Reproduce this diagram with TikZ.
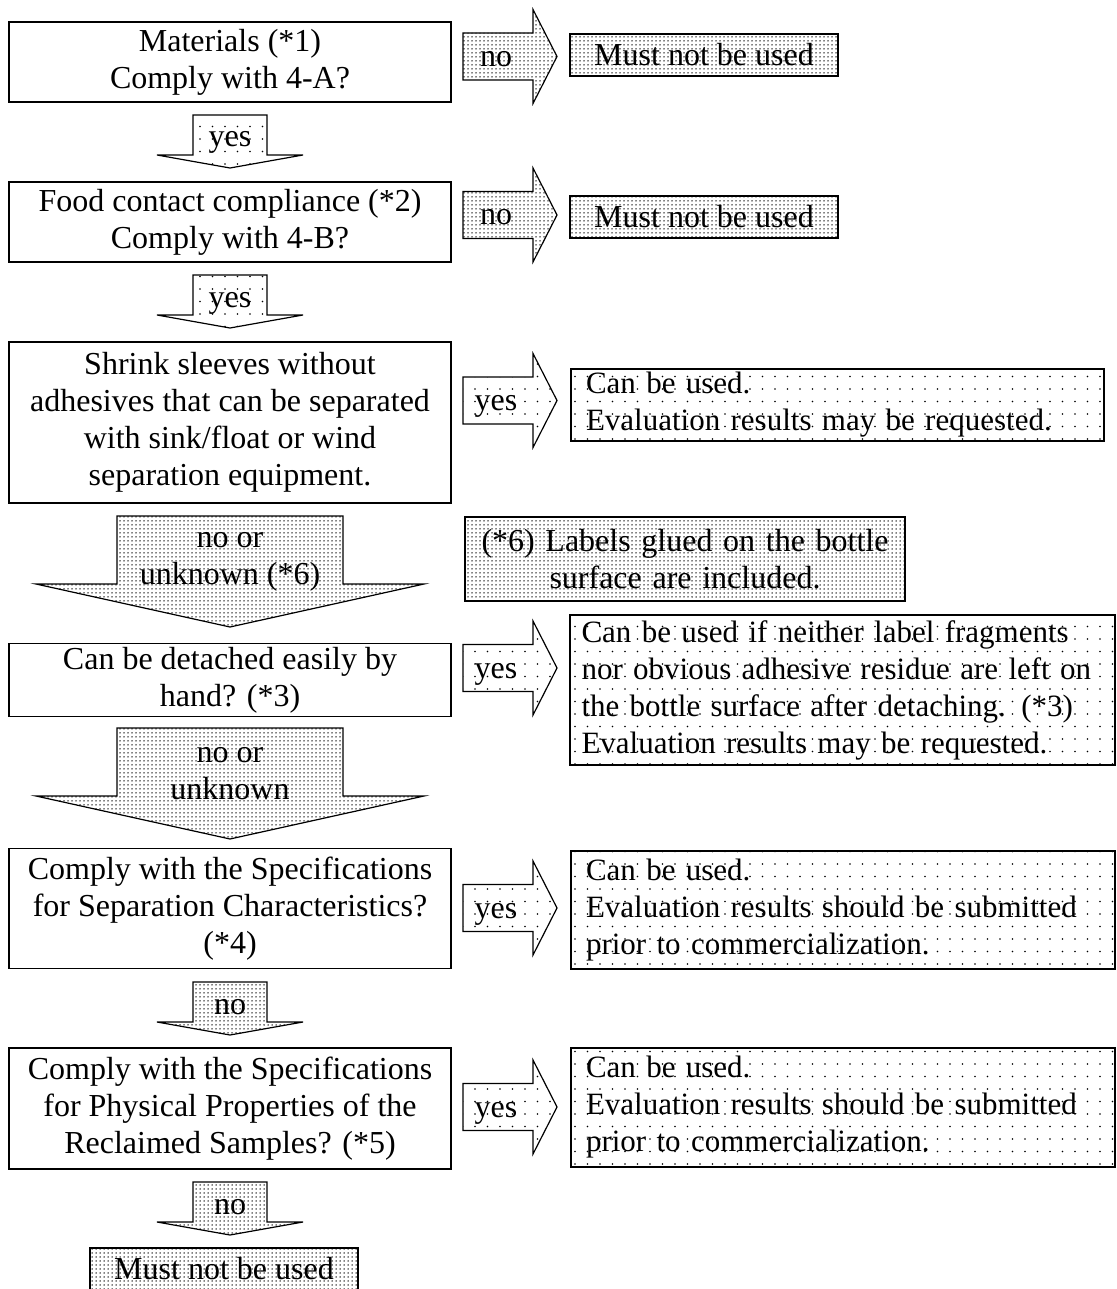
\documentclass[tikz,border=0pt]{standalone}
\usepackage{fontspec}
\setmainfont{Liberation Serif}
\usetikzlibrary{positioning, patterns.meta}

\tikzdeclarepattern{
  name=finedots,
  bounding box={(-1pt,-1pt) and (1pt,1pt)},
  tile size={(4pt,4pt)},
  code={\fill (0pt,0pt) circle (0.75pt);}
}
\tikzdeclarepattern{
  name=sparsedots,
  bounding box={(-1pt,-1pt) and (1pt,1pt)},
  tile size={(12.5pt,12.5pt)},
  code={\fill (0pt,0pt) circle (0.9pt);}
}

\tikzset{
  question/.style={draw, line width=1.6pt, minimum width=442pt, align=center},
  nogo/.style={draw, line width=2pt, pattern=finedots, minimum width=268pt, minimum height=42pt, anchor=north west},
  okbox/.style={draw, line width=2pt, pattern=sparsedots, align=left, anchor=north west, inner xsep=15pt, font=\fontsize{31}{37}\selectfont},
  blk/.style={draw, line width=1.2pt},
  lbl/.style={anchor=base}
}

\begin{document}
\begin{tikzpicture}[x=1pt, y=-1pt, font=\fontsize{32}{37}\selectfont]
\useasboundingbox (0,0) rectangle (1116,1289);

% questions
\node[question, minimum height=80pt] (materials) at (230,62) {Materials (*1)\\Comply with 4-A?};
\node[question, minimum height=80pt] (food) at (230,222) {Food contact compliance (*2)\\Comply with 4-B?};
\node[question, minimum height=161pt] (shrink) at (230,422.5) {Shrink sleeves without\\adhesives that can be separated\\with sink/float or wind\\separation equipment.};
\node[question, minimum height=70pt] (detach) at (230,680) {Can be detached easily by\\hand? (*3)};
\node[question, minimum height=120pt] (separation) at (230,908.5) {Comply with the Specifications\\for Separation Characteristics?\\(*4)};
\node[question, minimum height=121pt] (physical) at (230,1108.5) {Comply with the Specifications\\for Physical Properties of the\\Reclaimed Samples? (*5)};

% answers
\node[nogo] (nogo1) at (569,33) {Must not be used};
\node[nogo] (nogo2) at (569,195) {Must not be used};
\node[okbox, text width=503pt, minimum height=70pt] (ok3) at (570,368) {Can be used.\\Evaluation results may be requested.};
\node[draw, line width=2pt, pattern=finedots, align=center, anchor=north west, text width=428pt, minimum height=84pt, inner xsep=6pt] (note) at (464,516) {(*6) Labels glued on the bottle\\surface are included.};
\node[okbox, text width=522pt, inner xsep=11.5pt, minimum height=150pt] (ok4) at (569,614) {Can be used if neither label fragments\\nor obvious adhesive residue are left on\\the bottle surface after detaching. (*3)\\Evaluation results may be requested.};
\node[okbox, text width=514pt, minimum height=118pt] (ok5) at (570,850) {Can be used.\\Evaluation results should be submitted\\prior to commercialization.};
\node[okbox, text width=514pt, minimum height=119pt] (ok6) at (570,1047) {Can be used.\\Evaluation results should be submitted\\prior to commercialization.};
\node[nogo] (nogo3) at (89,1247) {Must not be used};

% right arrows
\draw[blk, pattern=finedots] (463,33) -- ++(70,0) -- ++(0,-23.5) -- ++(24,47) -- ++(-24,47) -- ++(0,-23.5) -- ++(-70,0) -- cycle;
\draw[blk, pattern=finedots] (463,191.5) -- ++(70,0) -- ++(0,-23.5) -- ++(24,47) -- ++(-24,47) -- ++(0,-23.5) -- ++(-70,0) -- cycle;
\draw[blk, pattern=sparsedots] (463,377) -- ++(70,0) -- ++(0,-23.5) -- ++(24,47) -- ++(-24,47) -- ++(0,-23.5) -- ++(-70,0) -- cycle;
\draw[blk, pattern=sparsedots] (463,644.5) -- ++(70,0) -- ++(0,-23.5) -- ++(24,47) -- ++(-24,47) -- ++(0,-23.5) -- ++(-70,0) -- cycle;
\draw[blk, pattern=sparsedots] (463,884.5) -- ++(70,0) -- ++(0,-23.5) -- ++(24,47) -- ++(-24,47) -- ++(0,-23.5) -- ++(-70,0) -- cycle;
\draw[blk, pattern=sparsedots] (463,1083.5) -- ++(70,0) -- ++(0,-23.5) -- ++(24,47) -- ++(-24,47) -- ++(0,-23.5) -- ++(-70,0) -- cycle;
\node[lbl] (no1) at (496,66.5) {no};
\node[lbl] (no2) at (496,225) {no};
\node[lbl] (yes3) at (496,410.5) {yes};
\node[lbl] (yes4) at (496,678) {yes};
\node[lbl] (yes5) at (496,918) {yes};
\node[lbl] (yes6) at (496,1117) {yes};

% down arrows
\draw[blk, pattern=sparsedots] (193,115) -- ++(74,0) -- ++(0,40) -- ++(36,0) -- ++(-73,13) -- ++(-73,-13) -- ++(36,0) -- cycle;
\draw[blk, pattern=sparsedots] (193,275) -- ++(74,0) -- ++(0,40) -- ++(36,0) -- ++(-73,13) -- ++(-73,-13) -- ++(36,0) -- cycle;
\draw[blk, pattern=finedots] (117,516) -- ++(226,0) -- ++(0,68) -- ++(81,0) -- ++(-194,43) -- ++(-194,-43) -- ++(81,0) -- cycle;
\draw[blk, pattern=finedots] (117,728) -- ++(226,0) -- ++(0,68) -- ++(81,0) -- ++(-194,43) -- ++(-194,-43) -- ++(81,0) -- cycle;
\draw[blk, pattern=finedots] (193,982) -- ++(74,0) -- ++(0,40) -- ++(36,0) -- ++(-73,13) -- ++(-73,-13) -- ++(36,0) -- cycle;
\draw[blk, pattern=finedots] (193,1182) -- ++(74,0) -- ++(0,40) -- ++(36,0) -- ++(-73,13) -- ++(-73,-13) -- ++(36,0) -- cycle;
\node[lbl] (yes1) at (230,147) {yes};
\node[lbl] (yes2) at (230,307) {yes};
\node[align=center] (noor1) at (230,562) {no or\\unknown (*6)};
\node[align=center] (noor2) at (230,774) {no or\\unknown};
\node[lbl] (no5) at (230,1014) {no};
\node[lbl] (no6) at (230,1214) {no};

\end{tikzpicture}
\end{document}
